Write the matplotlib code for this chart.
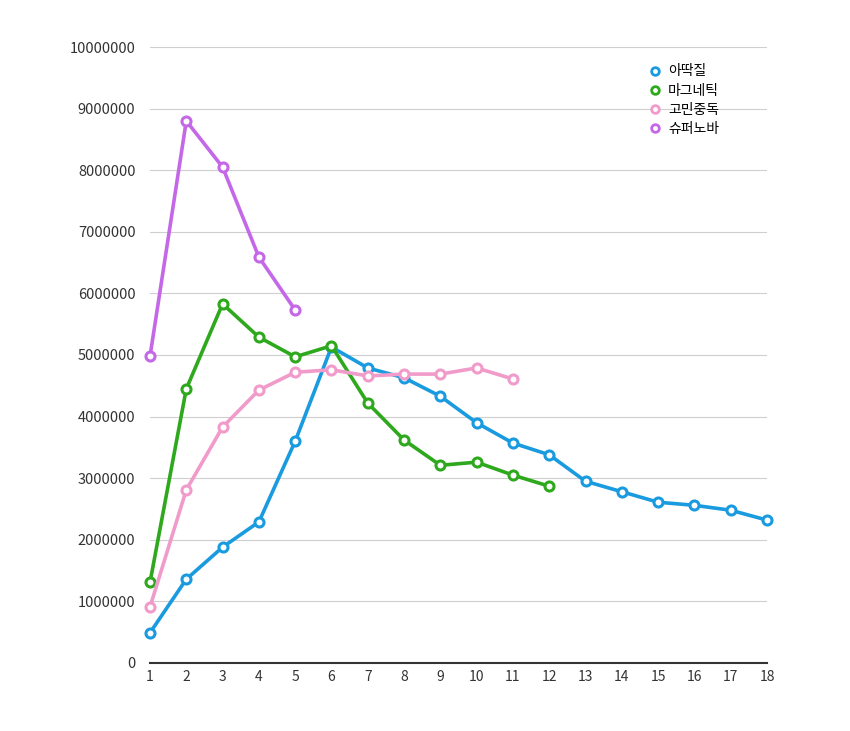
import matplotlib
matplotlib.use("Agg")
import matplotlib.pyplot as plt
from matplotlib.lines import Line2D

plt.rcParams['font.family'] = ['Noto Sans CJK KR', 'DejaVu Sans']

episodes = list(range(1, 19))
series_names = ['아딱질', '마그네틱', '고민중독', '슈퍼노바']
adakjil = [490000, 1360000, 1880000, 2290000, 3600000, 5130000, 4790000, 4630000, 4330000,
           3900000, 3570000, 3380000, 2950000, 2780000, 2610000, 2560000, 2480000, 2320000]
magnetic = [1310000, 4450000, 5830000, 5290000, 4970000, 5150000, 4220000, 3620000, 3210000,
            3260000, 3050000, 2870000]
gomin = [910000, 2810000, 3830000, 4430000, 4720000, 4760000, 4660000, 4690000, 4690000,
         4790000, 4610000]
supernova = [4980000, 8800000, 8050000, 6590000, 5730000]
colors = ['#1a9be0', '#2ea81c', '#f19bcb', '#c468e8']
yticks = [0, 1000000, 2000000, 3000000, 4000000, 5000000, 6000000, 7000000, 8000000, 9000000, 10000000]

fig = plt.figure(figsize=(8.5, 7.31), dpi=100)
ax = fig.add_axes([150/850, 1-663/731, (767-150)/850, (663-47)/731])

data = [adakjil, magnetic, gomin, supernova]
handles = []
for name, vals, c in zip(series_names, data, colors):
    ax.plot(episodes[:len(vals)], vals, color=c, lw=2.6, marker='o', ms=6.5,
            mfc='white', mec=c, mew=2.2, zorder=3, clip_on=False)
    handles.append(Line2D([], [], ls='none', marker='o', ms=5.5, mfc='white', mec=c, mew=2, label=name))

ax.set_xlim(1, 18)
ax.set_ylim(0, 10000000)
ax.set_xticks(episodes)
ax.set_xticklabels([str(e) for e in episodes], fontsize=10, color='#333333')
ax.set_yticks(yticks)
ax.set_yticklabels([str(v) for v in yticks], fontsize=10.5, color='#333333')
ax.tick_params(axis='y', length=0, pad=10.5)
ax.tick_params(axis='x', length=0, pad=5)
ax.grid(axis='y', color='#cfcfcf', lw=0.8)
ax.set_axisbelow(True)
for s in ['top', 'right', 'left']:
    ax.spines[s].set_visible(False)
ax.spines['bottom'].set_color('#333333')
ax.spines['bottom'].set_linewidth(1.5)

leg = ax.legend(handles=handles, loc='upper left', bbox_to_anchor=(634/850, 1-52/731),
                bbox_transform=fig.transFigure, frameon=False, fontsize=10,
                handletextpad=0.35, labelspacing=0.38, handlelength=1.2)

fig.savefig('out.png', dpi=100, facecolor='white')
